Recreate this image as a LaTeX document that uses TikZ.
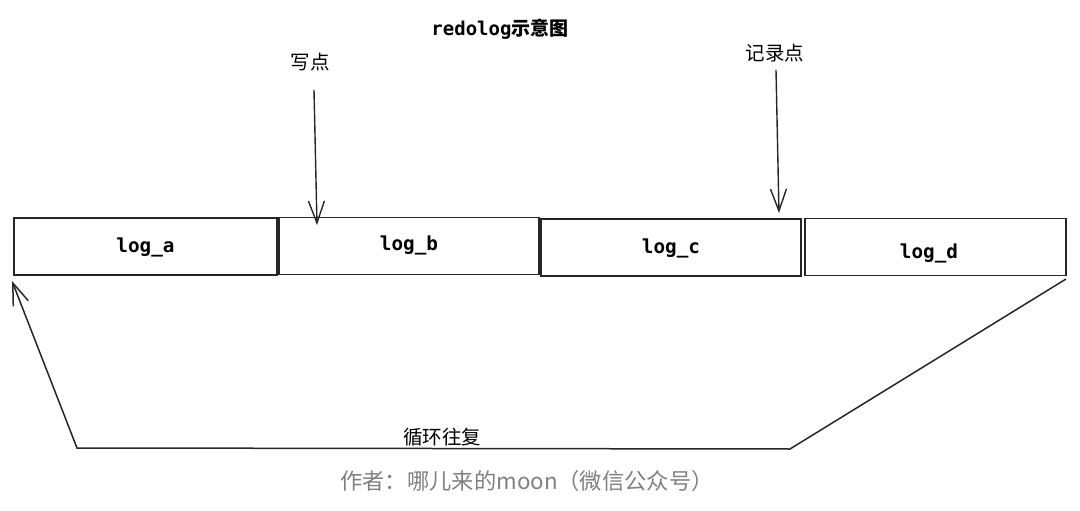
\documentclass[tikz,border=0pt]{standalone}
\usepackage{fontspec}
\setmonofont{DejaVu Sans Mono}
\newfontfamily\cjk{Noto Sans CJK SC}
\usetikzlibrary{arrows.meta}
\begin{document}
\begin{tikzpicture}[x=1pt,y=-1pt,
  logbox/.style={draw=black!85,line width=1.4pt,minimum height=57pt,inner sep=0pt,fill=white},
  logtxt/.style={font=\fontsize{19.3}{19}\selectfont\ttfamily\bfseries},
  lbl/.style={font=\fontsize{19.5}{20}\selectfont\cjk},
  barb/.style={-{Straight Barb[length=22pt,width=16pt]}},
  arr/.style={draw=black!85,line width=1.4pt,barb},
  ret/.style={draw=black!85,line width=1.5pt}]
\useasboundingbox (0,0) rectangle (1080,511);
\node[logbox,minimum width=263pt] (a) at (145.5,246.5) {};
\node[logtxt] at (145.5,247) {log\_a};
\node[logbox,minimum width=260pt] (b) at (409,246) {};
\node[logtxt] at (409,245) {log\_b};
\node[logbox,minimum width=260pt] (c) at (671,247.5) {};
\node[logtxt] at (671,248) {log\_c};
\node[logbox,minimum width=261pt] (d) at (935.5,247) {};
\node[logtxt] at (929,253) {log\_d};
\node[font=\fontsize{19}{19}\selectfont] (title) at (500,29) {\ttfamily\bfseries redolog\cjk\bfseries 示意图};
\node[lbl] (w) at (310,62) {写点};
\node[lbl] (r) at (775,53) {记录点};
\coordinate (w0) at (314,90);
\coordinate (w1) at (317,225);
\coordinate (r0) at (776,70);
\coordinate (r1) at (779,213);
\draw[arr] (w0) -- (w1);
\draw[arr] (r0) -- (r1);
\coordinate (p0) at (1066,279);
\coordinate (p1) at (790,449);
\coordinate (p2) at (77,448);
\coordinate (p3) at (12,281);
\draw[ret,barb] (p0) -- (p1) -- (p2) -- (p3);
\node[lbl] (loop) at (442,437) {循环往复};
\node[font=\fontsize{22.3}{23}\selectfont\cjk,text=black!50] (foot) at (527,481) {作者：哪儿来的moon（微信公众号）};
\end{tikzpicture}
\end{document}
